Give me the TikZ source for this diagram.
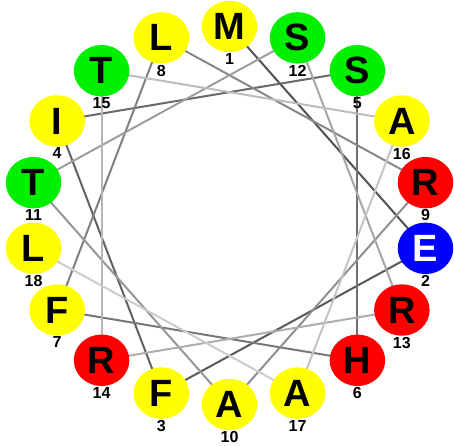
\documentclass[tikz,border=0pt]{standalone}
\usepackage{fontspec}
\setmainfont{Liberation Sans}
\usetikzlibrary{shapes.geometric, backgrounds}
\definecolor{hyellow}{HTML}{FFFF00}
\definecolor{hgreen}{HTML}{00F000}
\definecolor{hred}{HTML}{FF0000}
\definecolor{hblue}{HTML}{0000FF}
\tikzset{
  res/.style={ellipse, minimum width=55.5pt, minimum height=51.5pt, inner sep=0pt,
              font=\fontsize{38}{38}\selectfont\bfseries},
  apolar/.style={res, fill=hyellow},
  polar/.style={res, fill=hgreen},
  basic/.style={res, fill=hred},
  acidic/.style={res, fill=hblue, text=white},
  num/.style={inner sep=0pt, label distance=0.8pt, font=\fontsize{16}{16}\selectfont\bfseries},
  bond/.style={line width=2pt}
}

\begin{document}
\begin{tikzpicture}
  \useasboundingbox (-229.5pt,-229.5pt) rectangle (224.5pt,215.5pt);
  % residues round the wheel, 100 degrees apart
  \node[apolar, label={[num]below:1}]  (m1)  at (90:199pt and 189pt)   {M};
  \node[acidic, label={[num]below:2}]  (e2)  at (-10:199pt and 189pt)  {E};
  \node[apolar, label={[num]below:3}]  (f3)  at (-110:199pt and 189pt) {F};
  \node[apolar, label={[num]below:4}]  (i4)  at (150:199pt and 189pt)  {I};
  \node[polar,  label={[num]below:5}]  (s5)  at (50:199pt and 189pt)   {S};
  \node[basic,  label={[num]below:6}]  (h6)  at (-50:199pt and 189pt)  {H};
  \node[apolar, label={[num]below:7}]  (f7)  at (-150:199pt and 189pt) {F};
  \node[apolar, label={[num]below:8}]  (l8)  at (110:199pt and 189pt)  {L};
  \node[basic,  label={[num]below:9}]  (r9)  at (10:199pt and 189pt)   {R};
  \node[apolar, label={[num]below:10}] (a10) at (-90:199pt and 189pt)  {A};
  \node[polar,  label={[num]below:11}] (t11) at (170:199pt and 189pt)  {T};
  \node[polar,  label={[num]below:12}] (s12) at (70:199pt and 189pt)   {S};
  \node[basic,  label={[num]below:13}] (r13) at (-30:199pt and 189pt)  {R};
  \node[basic,  label={[num]below:14}] (r14) at (-130:199pt and 189pt) {R};
  \node[polar,  label={[num]below:15}] (t15) at (130:199pt and 189pt)  {T};
  \node[apolar, label={[num]below:16}] (a16) at (30:199pt and 189pt)   {A};
  \node[apolar, label={[num]below:17}] (a17) at (-70:199pt and 189pt)  {A};
  \node[apolar, label={[num]below:18}] (l18) at (-170:199pt and 189pt) {L};
  % backbone, lighter towards the end
  \begin{scope}[on background layer]
    \draw[bond, black!68] (m1.center) -- (e2.center);
    \draw[bond, black!65] (e2.center) -- (f3.center);
    \draw[bond, black!62] (f3.center) -- (i4.center);
    \draw[bond, black!59] (i4.center) -- (s5.center);
    \draw[bond, black!56] (s5.center) -- (h6.center);
    \draw[bond, black!53] (h6.center) -- (f7.center);
    \draw[bond, black!50] (f7.center) -- (l8.center);
    \draw[bond, black!47] (l8.center) -- (r9.center);
    \draw[bond, black!44] (r9.center) -- (a10.center);
    \draw[bond, black!41] (a10.center) -- (t11.center);
    \draw[bond, black!38] (t11.center) -- (s12.center);
    \draw[bond, black!35] (s12.center) -- (r13.center);
    \draw[bond, black!32] (r13.center) -- (r14.center);
    \draw[bond, black!29] (r14.center) -- (t15.center);
    \draw[bond, black!26] (t15.center) -- (a16.center);
    \draw[bond, black!23] (a16.center) -- (a17.center);
    \draw[bond, black!20] (a17.center) -- (l18.center);
  \end{scope}
\end{tikzpicture}
\end{document}
